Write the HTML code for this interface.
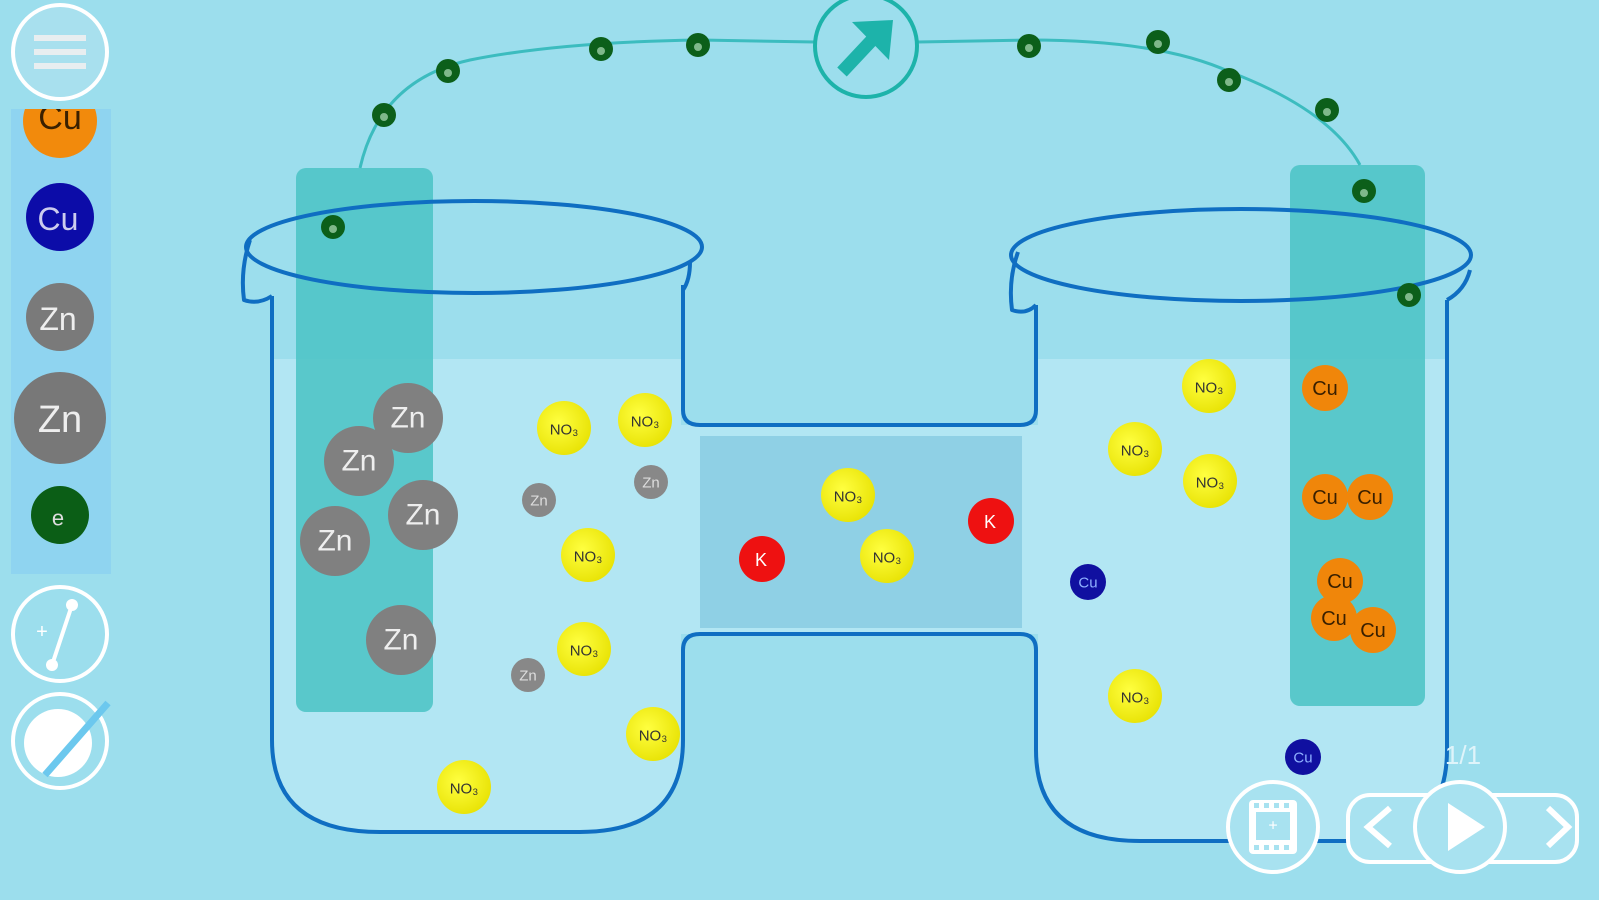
<!DOCTYPE html>
<html><head><meta charset="utf-8"><style>
html,body{margin:0;padding:0;width:1599px;height:900px;overflow:hidden;background:#9cdeed}
svg{display:block}
text{font-family:"Liberation Sans",sans-serif;text-anchor:middle;dominant-baseline:central}
</style></head><body>
<svg width="1599" height="900" viewBox="0 0 1599 900" xmlns="http://www.w3.org/2000/svg">
<defs>
<radialGradient id="gy" cx="0.4" cy="0.4" r="0.7"><stop offset="0" stop-color="#ffff40"/><stop offset="1" stop-color="#e6e000"/></radialGradient>
</defs>
<rect width="1599" height="900" fill="#9cdeed"/>
<!-- liquid -->
<path d="M272,359 L681,359 L681,425 L1038,425 L1038,359 L1447,359 L1447,750 Q1447,841 1350,841 L1140,841 Q1038,841 1038,750 L1038,634 L681,634 L681,740 Q681,832 580,832 L380,832 Q272,832 272,740 Z" fill="#b2e6f3"/>
<rect x="700" y="436" width="322" height="192" fill="#8fd0e5"/>
<!-- electrodes -->
<rect x="296" y="168" width="137" height="544" rx="10" fill="#4fc4c6" opacity="0.9"/>
<rect x="1290" y="165" width="135" height="541" rx="10" fill="#4fc4c6" opacity="0.9"/>
<!-- wire -->
<path d="M360,168 Q380,80 470,60 Q560,42 700,40 L815,42 M918,42 L1030,40 Q1160,40 1230,72 Q1330,110 1360,165" fill="none" stroke="#3cbcbf" stroke-width="3"/>
<circle cx="866" cy="46" r="51" fill="none" stroke="#1db3aa" stroke-width="4"/>
<path d="M842,72 L872,40" stroke="#1db3aa" stroke-width="13" stroke-linecap="butt"/>
<path d="M852,22 L893,20 L889,60 Z" fill="#1db3aa"/>
<!-- beaker outlines -->
<g fill="none" stroke="#0f6ec2" stroke-width="4" stroke-linejoin="round">
<ellipse cx="474" cy="247" rx="228" ry="46"/>
<path d="M250,240 Q240,270 244,300 Q258,305 272,296 M690,262 Q690,280 683,290"/>
<path d="M272,296 L272,740 Q272,832 380,832 L580,832 Q683,832 683,740 L683,650 Q683,634 700,634 L1020,634 Q1036,634 1036,650 L1036,750 Q1036,841 1140,841 L1350,841 Q1447,841 1447,750 L1447,300"/>
<path d="M683,285 L683,410 Q683,425 700,425 L1020,425 Q1036,425 1036,410 L1036,305"/>
<ellipse cx="1241" cy="255" rx="230" ry="46"/>
<path d="M1018,252 Q1008,280 1012,310 Q1026,315 1036,305 M1470,270 Q1465,290 1447,300"/>
</g>
<!-- particles -->
<g font-size="24" fill="#fff">
<g fill="#808080"><circle cx="408" cy="418" r="35"/><circle cx="359" cy="461" r="35"/><circle cx="423" cy="515" r="35"/><circle cx="335" cy="541" r="35"/><circle cx="401" cy="640" r="35"/></g>
<g fill="#eee" font-size="30"><text x="408" y="418">Zn</text><text x="359" y="461">Zn</text><text x="423" y="515">Zn</text><text x="335" y="541">Zn</text><text x="401" y="640">Zn</text></g>
<g fill="#888"><circle cx="539" cy="500" r="17"/><circle cx="651" cy="482" r="17"/><circle cx="528" cy="675" r="17"/></g>
<g fill="#ddd" font-size="15"><text x="539" y="501">Zn</text><text x="651" y="483">Zn</text><text x="528" y="676">Zn</text></g>
</g>
<g>
<g fill="url(#gy)">
<circle cx="564" cy="428" r="27"/><circle cx="645" cy="420" r="27"/><circle cx="588" cy="555" r="27"/><circle cx="584" cy="649" r="27"/><circle cx="653" cy="734" r="27"/><circle cx="464" cy="787" r="27"/><circle cx="848" cy="495" r="27"/><circle cx="887" cy="556" r="27"/><circle cx="1209" cy="386" r="27"/><circle cx="1135" cy="449" r="27"/><circle cx="1210" cy="481" r="27"/><circle cx="1135" cy="696" r="27"/>
</g>
<g font-size="15" fill="#333">
<text x="564" y="430">NO₃</text><text x="645" y="422">NO₃</text><text x="588" y="557">NO₃</text><text x="584" y="651">NO₃</text><text x="653" y="736">NO₃</text><text x="464" y="789">NO₃</text><text x="848" y="497">NO₃</text><text x="887" y="558">NO₃</text><text x="1209" y="388">NO₃</text><text x="1135" y="451">NO₃</text><text x="1210" y="483">NO₃</text><text x="1135" y="698">NO₃</text>
</g>
</g>
<g fill="#ee1111"><circle cx="762" cy="559" r="23"/><circle cx="991" cy="521" r="23"/></g>
<g fill="#fff" font-size="18"><text x="761" y="560">K</text><text x="990" y="522">K</text></g>
<g fill="#1010a0"><circle cx="1088" cy="582" r="18"/><circle cx="1303" cy="757" r="18"/></g>
<g fill="#8fb0ff" font-size="15"><text x="1088" y="583">Cu</text><text x="1303" y="758">Cu</text></g>
<g fill="#f0860a"><circle cx="1325" cy="388" r="23"/><circle cx="1325" cy="497" r="23"/><circle cx="1370" cy="497" r="23"/><circle cx="1340" cy="581" r="23"/><circle cx="1334" cy="618" r="23"/><circle cx="1373" cy="630" r="23"/></g>
<g fill="#3a2000" font-size="20"><text x="1325" y="389">Cu</text><text x="1325" y="498">Cu</text><text x="1370" y="498">Cu</text><text x="1340" y="582">Cu</text><text x="1334" y="619">Cu</text><text x="1373" y="631">Cu</text></g>
<g fill="#0c5f1a">
<circle cx="384" cy="115" r="12"/><circle cx="448" cy="71" r="12"/><circle cx="601" cy="49" r="12"/><circle cx="698" cy="45" r="12"/><circle cx="1029" cy="46" r="12"/><circle cx="1158" cy="42" r="12"/><circle cx="1229" cy="80" r="12"/><circle cx="1327" cy="110" r="12"/><circle cx="1364" cy="191" r="12"/><circle cx="1409" cy="295" r="12"/><circle cx="333" cy="227" r="12"/>
</g>
<g fill="#7fb88a">
<circle cx="384" cy="117" r="4"/><circle cx="448" cy="73" r="4"/><circle cx="601" cy="51" r="4"/><circle cx="698" cy="47" r="4"/><circle cx="1029" cy="48" r="4"/><circle cx="1158" cy="44" r="4"/><circle cx="1229" cy="82" r="4"/><circle cx="1327" cy="112" r="4"/><circle cx="1364" cy="193" r="4"/><circle cx="1409" cy="297" r="4"/><circle cx="333" cy="229" r="4"/>
</g>
<!-- sidebar -->
<rect x="11" y="109" width="100" height="465" fill="#8fd4f0"/>
<clipPath id="sb"><rect x="11" y="109" width="100" height="465"/></clipPath>
<g clip-path="url(#sb)"><circle cx="60" cy="121" r="37" fill="#f28a0c"/><text x="60" y="118" font-size="34" fill="#3a2000">Cu</text></g>
<circle cx="60" cy="217" r="34" fill="#0c0ca8"/><text x="58" y="219" font-size="32" fill="#cce">Cu</text>
<circle cx="60" cy="317" r="34" fill="#7a7a7a"/><text x="58" y="319" font-size="32" fill="#eee">Zn</text>
<circle cx="60" cy="418" r="46" fill="#787878"/><text x="60" y="420" font-size="38" fill="#eee">Zn</text>
<circle cx="60" cy="515" r="29" fill="#0b5e16"/><text x="58" y="518" font-size="22" fill="#ddd">e</text>
<!-- menu & tools -->
<g fill="none" stroke="#fff" stroke-width="4">
<circle cx="60" cy="52" r="47" fill="#a8e0ee"/>
<path d="M34,38 H86 M34,52 H86 M34,66 H86" stroke="#e8eef0" stroke-width="6"/>
<circle cx="60" cy="634" r="47"/>
<path d="M52,665 L72,605"/>
<circle cx="60" cy="741" r="47"/>
</g>
<circle cx="72" cy="605" r="6" fill="#fff"/><circle cx="52" cy="665" r="6" fill="#fff"/>
<text x="42" y="632" font-size="20" fill="#fff">+</text>
<circle cx="58" cy="743" r="34" fill="#fff"/>
<path d="M45,775 L108,703" stroke="#6cc8ee" stroke-width="7"/>
<!-- bottom controls -->
<rect x="1348" y="795" width="229" height="67" rx="22" fill="#a8e2f0" stroke="#fff" stroke-width="4"/>
<circle cx="1273" cy="827" r="45" fill="#a8e2f0" stroke="#fff" stroke-width="4"/>
<rect x="1249" y="800" width="48" height="54" rx="4" fill="#fff"/>
<rect x="1256" y="812" width="34" height="28" fill="#a8e2f0"/>
<g fill="#a8e2f0"><rect x="1254" y="803" width="5" height="5"/><rect x="1264" y="803" width="5" height="5"/><rect x="1274" y="803" width="5" height="5"/><rect x="1284" y="803" width="5" height="5"/><rect x="1254" y="845" width="5" height="5"/><rect x="1264" y="845" width="5" height="5"/><rect x="1274" y="845" width="5" height="5"/><rect x="1284" y="845" width="5" height="5"/></g>
<text x="1273" y="826" font-size="16" fill="#fff">+</text>
<circle cx="1460" cy="827" r="45" fill="#a8e2f0" stroke="#fff" stroke-width="4"/>
<path d="M1448,803 L1485,827 L1448,851 Z" fill="#fff"/>
<path d="M1390,808 L1368,827 L1390,846 M1548,808 L1568,827 L1548,846" fill="none" stroke="#fff" stroke-width="6"/>
<text x="1463" y="755" font-size="26" fill="#dff4fa">1/1</text>
</svg>
</body></html>
